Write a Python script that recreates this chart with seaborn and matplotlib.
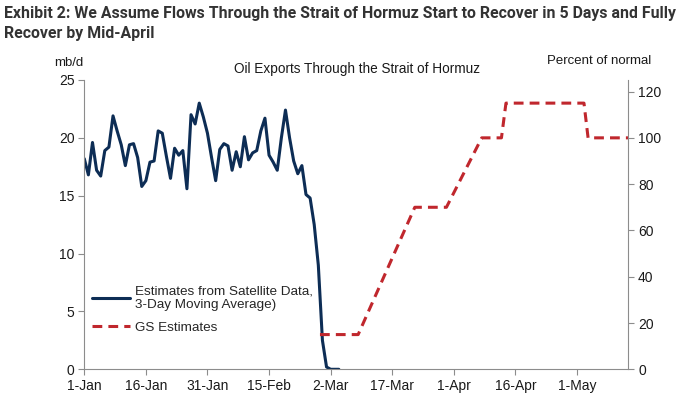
import numpy as np
import pandas as pd
import matplotlib
matplotlib.use("Agg")
import matplotlib.pyplot as plt
from matplotlib.lines import Line2D
import seaborn as sns

# satellite estimates, mb/d (3-day moving avg), day 0 = 1-Jan
sat_mbd = [18.2, 16.8, 19.6, 17.2, 16.7, 18.9, 19.2, 21.9, 20.6, 19.4,
           17.6, 19.4, 19.5, 18.3, 15.8, 16.3, 17.9, 18.0, 20.6, 20.4,
           18.4, 16.5, 19.1, 18.5, 18.9, 15.6, 22.0, 21.2, 23.0, 21.8,
           20.4, 18.3, 16.3, 19.0, 19.5, 19.3, 17.2, 18.8, 17.5, 20.1,
           18.1, 18.7, 18.9, 20.6, 21.7, 18.5, 17.9, 17.2, 20.0, 22.4,
           20.0, 18.0, 16.9, 17.6, 15.1, 14.8, 12.5, 9.0, 2.5, 0.2,
           0.0, 0.0, 0.0]
sat_day = list(range(len(sat_mbd)))

# GS estimates, percent of normal (turning points)
gs_day = [57.4, 66.7, 80.5, 88.2, 96.8, 101.6, 102.7, 121.7, 122.7, 132.5]
gs_pct = [15, 15, 70, 70, 100, 100, 115, 115, 100, 100]

tick_days = [0, 15, 30, 45, 60, 75, 90, 105, 120]
tick_labels = ["1-Jan", "16-Jan", "31-Jan", "15-Feb", "2-Mar", "17-Mar",
               "1-Apr", "16-Apr", "1-May"]

sns.set_style("white")
plt.rcParams['font.family'] = ['Liberation Sans', 'DejaVu Sans']

blue = "#0d2d55"
red = "#c0272d"
grey = "#8c8c8c"

fig = plt.figure(figsize=(7, 3.94), dpi=100)
ax = fig.add_axes([0.1204, 0.0627, 0.7772, 0.7343])

sat = pd.DataFrame({"day": sat_day, "mbd": sat_mbd})
sns.lineplot(data=sat, x="day", y="mbd", ax=ax, color=blue, linewidth=2.2)

ax2 = ax.twinx()
gs = pd.DataFrame({"day": gs_day, "pct": gs_pct})
sns.lineplot(data=gs, x="day", y="pct", ax=ax2, color=red, linewidth=2.2,
             dashes=False)
ax2.lines[0].set_dashes((3.2, 2))

ax.set_xlim(0, 132.5)
ax.set_ylim(0, 25)
ax2.set_ylim(0, 125)
ax.set_yticks([0, 5, 10, 15, 20, 25])
ax2.set_yticks([0, 20, 40, 60, 80, 100, 120])
ax.set_xticks(tick_days)
ax.set_xticklabels(tick_labels)
ax.set_xlabel("")
ax.set_ylabel("")
ax2.set_ylabel("")

for a in (ax, ax2):
    a.spines["top"].set_visible(False)
    for s in ("left", "right", "bottom"):
        a.spines[s].set_color(grey)
        a.spines[s].set_linewidth(0.8)
    a.tick_params(length=4, width=0.8, color=grey, labelsize=10,
                  labelcolor="#1a1a1a", pad=3)
ax.spines["right"].set_visible(False)
ax2.spines["left"].set_visible(False)
ax2.spines["bottom"].set_visible(False)
ax.tick_params(axis="both", direction="out", bottom=True, left=True)
ax2.tick_params(axis="y", direction="out", right=True)

handles = [Line2D([], [], color=blue, linewidth=2.2),
           Line2D([], [], color=red, linewidth=2.2, dashes=(3.2, 2))]
ax.legend(handles, ["Estimates from Satellite Data,\n3-Day Moving Average)",
                    "GS Estimates"],
          loc="lower left", bbox_to_anchor=(-0.008, 0.08), frameon=False,
          fontsize=9.7, handlelength=2.8, handletextpad=0.4, labelspacing=0.75)

fig.text(0.006, 0.985, "Exhibit 2: We Assume Flows Through the Strait of Hormuz "
         "Start to Recover in 5 Days and Fully\nRecover by Mid-April",
         ha="left", va="top", fontsize=11.4, fontweight="bold", color="#333333",
         family=["Roboto", "DejaVu Sans"], linespacing=1.4)
fig.text(0.078, 0.84, "mb/d", ha="left", va="center", fontsize=9.5,
         color="#1a1a1a")
fig.text(0.51, 0.825, "Oil Exports Through the Strait of Hormuz", ha="center",
         va="center", fontsize=9.8, color="#1a1a1a")
fig.text(0.93, 0.845, "Percent of normal", ha="right", va="center",
         fontsize=9.5, color="#1a1a1a")

fig.savefig("out.png", dpi=100)
